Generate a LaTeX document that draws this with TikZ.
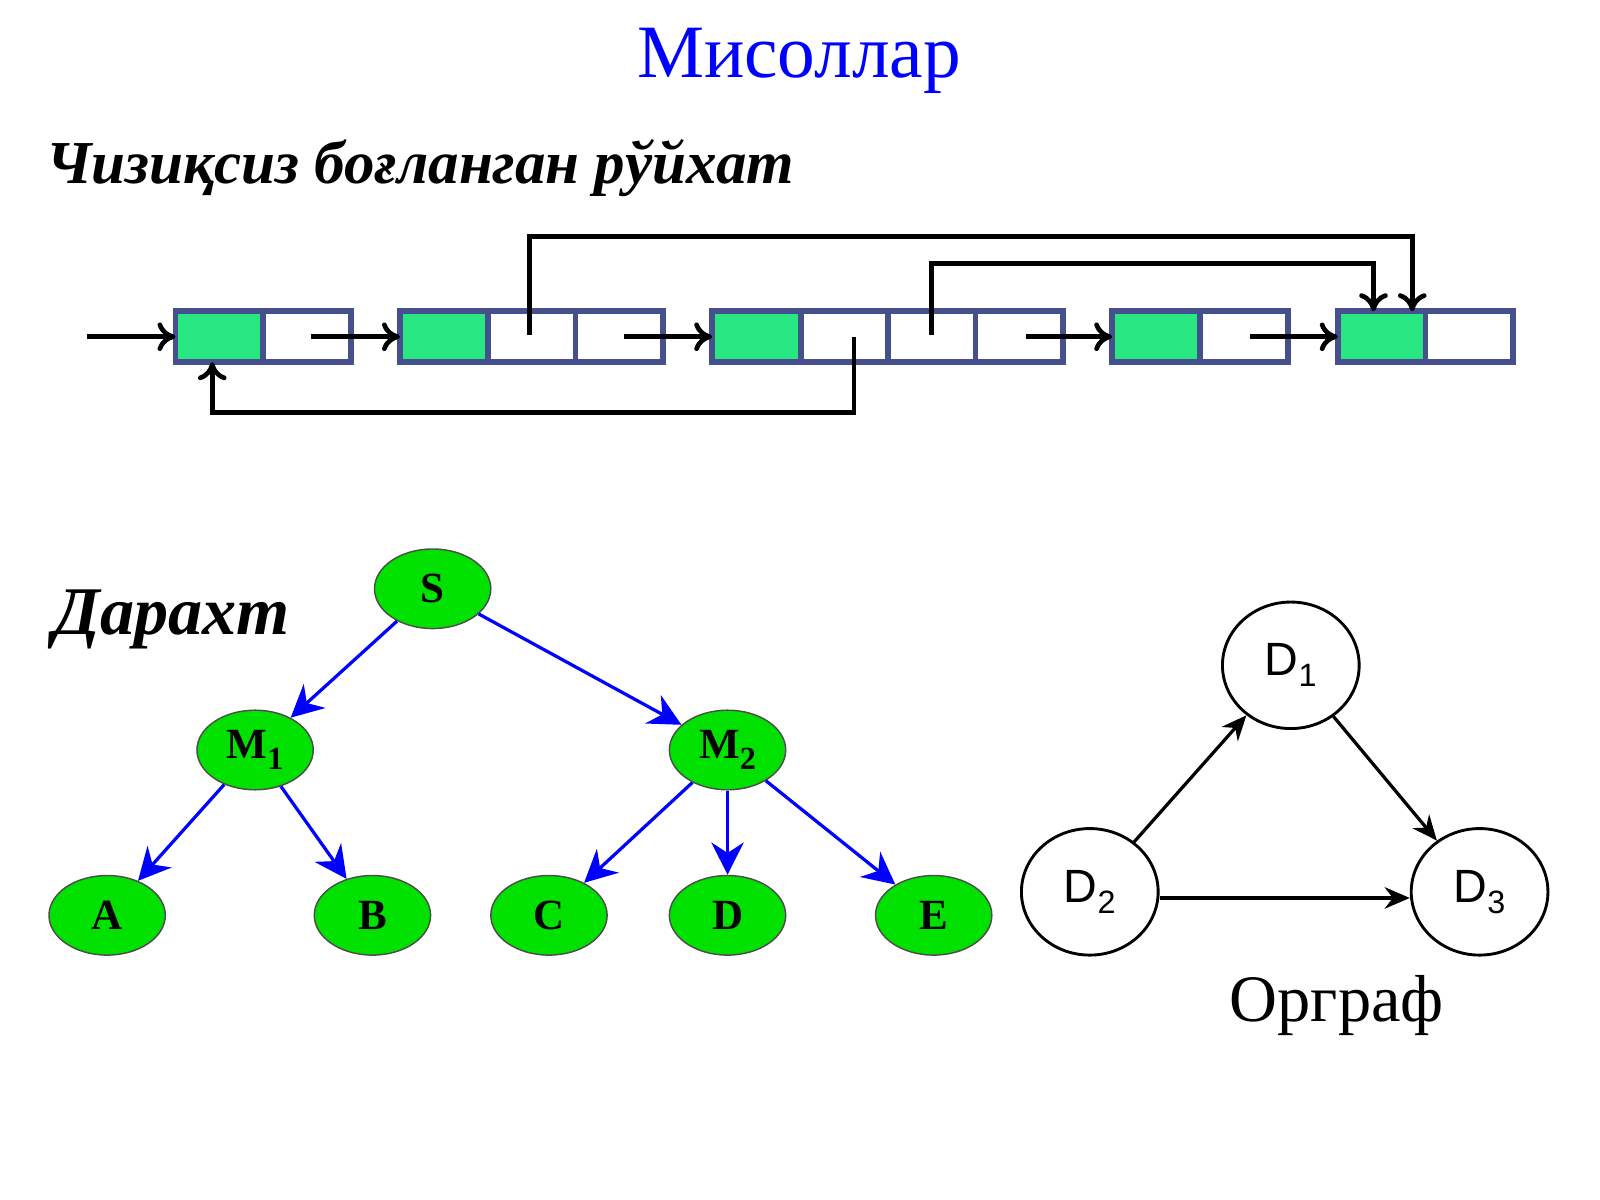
\documentclass[tikz,border=0pt]{standalone}
\usepackage{fontspec}
\setmainfont{Liberation Serif}
\newfontfamily\sansf{Liberation Sans}
\usetikzlibrary{arrows.meta,shapes.geometric}
\definecolor{cellg}{RGB}{40,230,130}
\definecolor{cellb}{RGB}{70,80,140}
\definecolor{treeg}{RGB}{0,225,0}
\newcommand{\lowsub}[1]{\raisebox{-3pt}{\fontsize{9}{10}\selectfont #1}}
\begin{document}
\begin{tikzpicture}[x=0.01cm,y=-0.01cm,
 cell/.style={draw=cellb,line width=1.6pt,minimum height=50*0.01cm,inner sep=0,outer sep=0},
 lk/.style={line width=1.3pt,-{To[length=5pt,width=8pt]}},
 tn/.style={ellipse,draw=black!70,fill=treeg,minimum width=114*0.01cm,minimum height=78*0.01cm,inner sep=0,font=\fontsize{12}{14}\selectfont\bfseries},
 ta/.style={blue,line width=0.9pt,-{Stealth[length=9pt,width=9pt]}},
 gn/.style={ellipse,draw,line width=0.8pt,minimum width=134*0.01cm,minimum height=124*0.01cm,inner sep=0,font=\sansf\fontsize{13}{15}\selectfont},
 ga/.style={line width=0.9pt,-{Stealth[length=7pt,width=6pt]}}]
\useasboundingbox (0,0) rectangle (1568,1176);
\node[blue,font=\fontsize{21}{25}\selectfont] (title) at (783,60) {Мисоллар};
\node[anchor=west,font=\fontsize{17}{20}\selectfont\bfseries\itshape] (sub) at (33,165) {Чизиқсиз боғланган рўйхат};
% list cells
\foreach \n/\a/\b/\f in {a1/172/258/cellg,a2/258/344/white,
 b1/392/478/cellg,b2/478/564/white,b3/564/650/white,
 c1/698/785/cellg,c2/785/870/white,c3/870/956/white,c4/956/1042/white,
 d1/1090/1176/cellg,d2/1176/1262/white,
 e1/1311/1397/cellg,e2/1397/1483/white}{
 \node[cell,fill=\f,minimum width=(\b-\a)*0.01cm] (\n) at ({(\a+\b)/2},330) {};}
\coordinate (s0) at (85,330);
\draw[lk] (s0) -- (a1.west);
\coordinate (p1) at (305,330); \draw[lk] (p1) -- (b1.west);
\coordinate (p2) at (612,330); \draw[lk] (p2) -- (c1.west);
\coordinate (p3) at (1005,330); \draw[lk] (p3) -- (d1.west);
\coordinate (p4) at (1225,330); \draw[lk] (p4) -- (e1.west);
\coordinate (q1) at (519,328);
\draw[lk] (q1) -- (519,232) -- (1384,232) -- (1384,305);
\coordinate (q2) at (913,328);
\draw[lk] (q2) -- (913,258) -- (1346,258) -- (1346,305);
\coordinate (q3) at (837,330);
\draw[lk] (q3) -- (837,404) -- (208,404) -- (208,355);
% tree
\node[anchor=center,font=\fontsize{19}{22}\selectfont\bfseries\itshape] (dar) at (168,607) {Дарахт};
\node[tn] (S) at (424,577) {S};
\node[tn] (M1) at (250,735) {M\lowsub{1}};
\node[tn] (M2) at (713,735) {M\lowsub{2}};
\node[tn] (A) at (105,897) {A};
\node[tn] (B) at (365,897) {B};
\node[tn] (C) at (538,897) {C};
\node[tn] (D) at (713,897) {D};
\node[tn] (E) at (915,897) {E};
\draw[ta] (S) -- (M1); \draw[ta] (S) -- (M2);
\draw[ta] (M1) -- (A); \draw[ta] (M1) -- (B);
\draw[ta] (M2) -- (C); \draw[ta] (M2) -- (D); \draw[ta] (M2) -- (E);
% digraph
\node[gn] (D1) at (1265,652) {D\lowsub{1}};
\node[gn] (D2) at (1068,874) {D\lowsub{2}};
\node[gn] (D3) at (1450,874) {D\lowsub{3}};
\draw[ga] (D2) -- (D1);
\draw[ga] (D1) -- (D3);
\draw[ga] (D2.east |- 0,880) -- (D3.west |- 0,880);
\node[font=\fontsize{18.5}{22}\selectfont] (org) at (1310,985) {Орграф};
\end{tikzpicture}
\end{document}
